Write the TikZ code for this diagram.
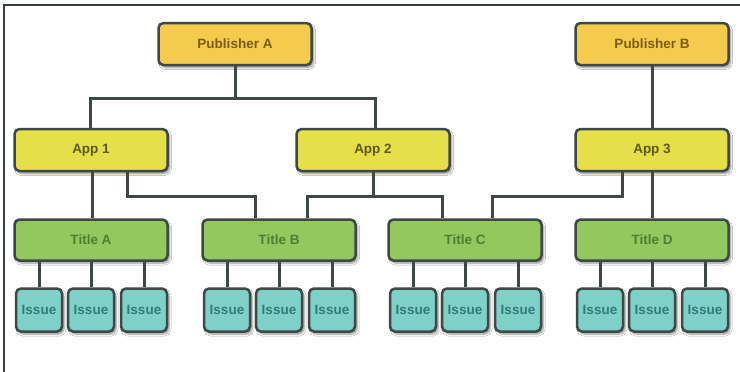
\documentclass[tikz,border=0pt]{standalone}
\usepackage{fontspec}
\setmainfont{Liberation Sans}
\usetikzlibrary{shadows.blur}
\definecolor{pubfill}{HTML}{F4CB4C}
\definecolor{pubtext}{HTML}{7A5C14}
\definecolor{appfill}{HTML}{E5E04A}
\definecolor{apptext}{HTML}{5C5A14}
\definecolor{titlefill}{HTML}{93C85E}
\definecolor{titletext}{HTML}{4F7D30}
\definecolor{issuefill}{HTML}{7FD0C6}
\definecolor{issuetext}{HTML}{2F7C7A}
\definecolor{edge}{HTML}{3E4847}
\begin{document}
\begin{tikzpicture}[x=1pt,y=-1pt,
  box/.style={draw=edge, line width=2.5pt, rounded corners=5pt, inner sep=0pt,
    font=\fontsize{13.5}{15}\selectfont\bfseries,
    blur shadow={shadow xshift=2pt, shadow yshift=-2.5pt, shadow blur steps=6, shadow opacity=45}},
  pub/.style={box, fill=pubfill, text=pubtext, minimum width=153pt, minimum height=42pt},
  app/.style={box, fill=appfill, text=apptext, minimum width=153pt, minimum height=42pt},
  ttl/.style={box, fill=titlefill, text=titletext, minimum width=153pt, minimum height=41pt},
  issue/.style={box, fill=issuefill, text=issuetext, minimum width=46pt, minimum height=43pt},
  wire/.style={draw=edge, line width=3pt},
  frame/.style={draw=edge!90!black, line width=1.2pt}]
\useasboundingbox (0,0) rectangle (740,372);
\fill[white] (0,0) rectangle (740,372);
\draw[frame] (4,372) -- (4,5) -- (740,5);

% publishers and apps
\node[pub] (pubA) at (235,44) {Publisher A};
\node[pub] (pubB) at (652,44) {Publisher B};
\node[app] (app1) at (91,150) {App 1};
\node[app] (app2) at (373,150) {App 2};
\node[app] (app3) at (652,150) {App 3};

% titles
\node[ttl] (tA) at (91,240) {Title A};
\node[ttl] (tB) at (279,240) {Title B};
\node[ttl] (tC) at (465,240) {Title C};
\node[ttl] (tD) at (652,240) {Title D};

% issues
\foreach \t/\c in {A/91, B/279, C/465, D/652}{
  \node[issue] (i\t1) at (\c-52,310) {Issue};
  \node[issue] (i\t2) at (\c,310) {Issue};
  \node[issue] (i\t3) at (\c+53,310) {Issue};
}

\coordinate (busP) at (0,98);
\coordinate (busA) at (0,196);

% publisher to apps
\draw[wire] (pubA.south) -- (pubA.south |- busP);
\draw[wire] ([xshift=-1]app1.north) |- ([xshift=2]app2.north |- busP) -- ([xshift=2]app2.north);
\draw[wire] (pubB.south) -- (app3.north);
% apps to titles
\draw[wire] ([xshift=1]app1.south) -- ([xshift=1]tA.north);
\draw[wire] ([xshift=36]app1.south) |- ([xshift=-24]tB.north |- busA) -- ([xshift=-24]tB.north);
\draw[wire] (app2.south) -- (app2.south |- busA);
\draw[wire] ([xshift=28]tB.north) |- ([xshift=-23]tC.north |- busA) -- ([xshift=-23]tC.north);
\draw[wire] ([xshift=-30]app3.south) |- ([xshift=27]tC.north |- busA) -- ([xshift=27]tC.north);
\draw[wire] (app3.south) -- (tD.north);
% titles to issues
\foreach \t in {A,B,C,D}{
  \foreach \k in {1,2,3}{
    \draw[wire] (i\t\k.north) -- (i\t\k.north |- t\t.south);
  }
}
\end{tikzpicture}
\end{document}
